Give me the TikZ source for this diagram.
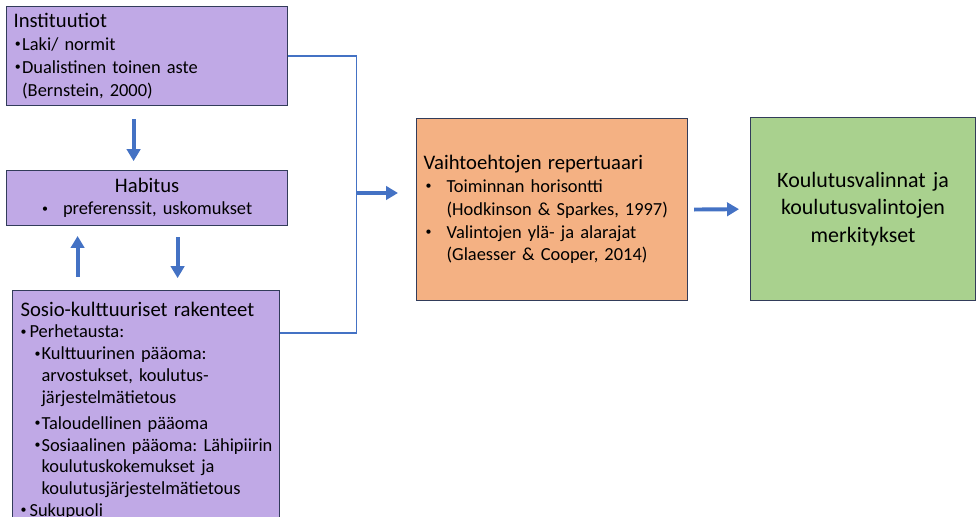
\documentclass[tikz,border=0pt]{standalone}
\usepackage{fontspec}
\setmainfont{Carlito}
\usetikzlibrary{arrows.meta,calc,positioning}

\definecolor{lila}{HTML}{C0A9E6}
\definecolor{oranssi}{HTML}{F4B183}
\definecolor{vihrea}{HTML}{A9D18E}
\definecolor{nuoli}{HTML}{4472C4}
\definecolor{reuna}{RGB}{50,60,90}

\newcommand{\bul}[1]{\makebox[#1][l]{\raisebox{0.3ex}{\fontsize{8.5}{8.5}\selectfont\textbullet}}}
\newcommand{\hd}{\fontsize{14.7}{15.5}\selectfont}

\begin{document}
\frenchspacing
\begin{tikzpicture}[
   x = 0.025cm, y = -0.025cm,
  laatikko/.style = {rectangle, draw=reuna, line width=0.8pt,
                     inner ysep=0pt, anchor=north west,
                     font=\fontsize{13.1}{16.2}\selectfont\frenchspacing},
      lila/.style = {laatikko, fill=lila, inner xsep=0.175cm,
                     text width=6.675cm, align=left},
   isonuoli/.style = {draw=nuoli, line width=2.8pt,
                     -{Triangle[length=8.5pt, width=9.5pt]}},
    viiva/.style = {draw=nuoli, line width=1.2pt}
                        ]
\clip (0,0) rectangle (976,517);
%
\node (inst) [lila, minimum width=7.025cm, minimum height=2.475cm]
    at (6,6)
    {{\hd Instituutiot}\\
     \hspace*{0.03cm}\bul{0.185cm}Laki/ normit\\
     \hspace*{0.03cm}\bul{0.185cm}Dualistinen toinen aste\\
     \hspace*{0.215cm}(Bernstein, 2000)};
\node (hab) [lila, align=center, minimum height=1.375cm,
    font=\fontsize{13.1}{15.8}\selectfont] at (6,170)
    {{\hd Habitus}\\
     \bul{0.525cm}preferenssit, uskomukset};
\node (sosio) [lila, inner xsep=0.1cm, text width=6.475cm,
    minimum height=6cm, font=\fontsize{13.1}{15.5}\selectfont\frenchspacing]
    at (12,290)
    {\hspace*{0.1cm}{\hd Sosio-kulttuuriset rakenteet}\\
     \hspace*{0.1cm}\bul{0.225cm}Perhetausta:\\
     \hspace*{0.45cm}\bul{0.175cm}Kulttuurinen pääoma:\\
     \hspace*{0.625cm}arvostukset, koulutus-\\
     \hspace*{0.625cm}järjestelmätietous\\[3pt]
     \hspace*{0.45cm}\bul{0.175cm}Taloudellinen pääoma\\
     \hspace*{0.45cm}\bul{0.175cm}Sosiaalinen pääoma: Lähipiirin\\
     \hspace*{0.625cm}koulutuskokemukset ja\\
     \hspace*{0.625cm}koulutusjärjestelmätietous\\
     \hspace*{0.1cm}\bul{0.225cm}Sukupuoli};
\node (rep) [laatikko, fill=oranssi, inner xsep=0.175cm,
    text width=6.425cm, align=left, minimum height=4.55cm]
    at (416,118)
    {{\hd Vaihtoehtojen repertuaari}\\
     \hspace*{0.05cm}\bul{0.525cm}Toiminnan horisontti\\
     \hspace*{0.575cm}(Hodkinson \& Sparkes, 1997)\\
     \hspace*{0.05cm}\bul{0.525cm}Valintojen ylä- ja alarajat\\
     \hspace*{0.575cm}(Glaesser \& Cooper, 2014)};
\node (valinnat) [laatikko, fill=vihrea, text width=5.2cm,
    inner xsep=0.2125cm, align=center, minimum height=4.575cm,
    font=\fontsize{15.6}{19.5}\selectfont] at (750,117)
    {Koulutusvalinnat ja\\ koulutusvalintojen\\ merkitykset};
%
\coordinate (jn) at (356.5,193);
\coordinate (sosioout) at ($(sosio.north east)+(0,43)$);
\draw[viiva] (inst.east) -| (jn);
\draw[viiva] (sosioout) -| (jn);
\draw[isonuoli, shorten >=0.45cm] (jn) -- (jn -| rep.west);
\draw[isonuoli, shorten <=0.15cm, shorten >=0.275cm]
    (rep.east) -- (valinnat.west);
% pystynuolet
\draw[isonuoli] ($(inst.south)+(-13.5,13)$) -- ++(0,42);
\draw[isonuoli] ($(sosio.north)+(-68.5,-13)$) -- ++(0,-41);
\draw[isonuoli] ($(hab.south)+(30.5,11)$) -- ++(0,41);
\end{tikzpicture}
\end{document}
